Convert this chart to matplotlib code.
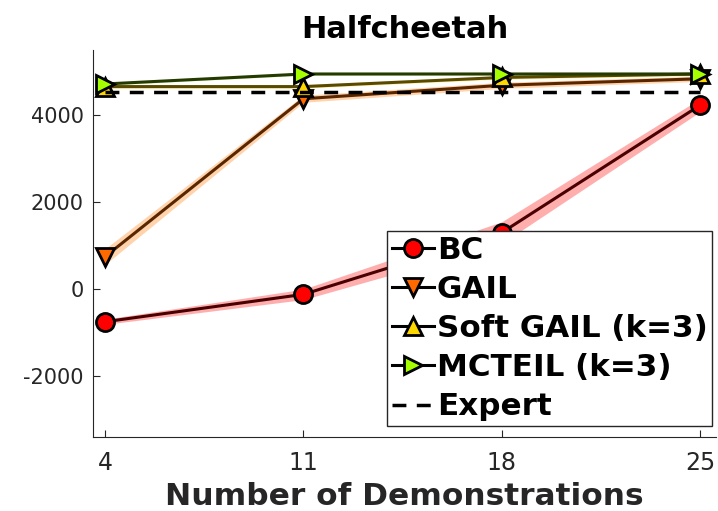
import numpy as np
import matplotlib
matplotlib.use('Agg')
import matplotlib.pyplot as plt

plt.rcParams['axes.unicode_minus'] = False

demos = [4, 11, 18, 25]

bc_mean = [-750, -120, 1300, 4230]
bc_std = [60, 120, 250, 150]
gail_mean = [750, 4380, 4690, 4840]
gail_std = [180, 80, 70, 60]
soft_gail_mean = [4660, 4660, 4870, 4950]
soft_gail_std = [40, 40, 40, 40]
mcteil_mean = [4720, 4950, 4950, 4950]
mcteil_std = [30, 30, 30, 30]
expert = 4540

series = [
    ('BC', bc_mean, bc_std, 'o', '#ff0000', '#4a0000', '#ff9a9a'),
    ('GAIL', gail_mean, gail_std, 'v', '#ff6a00', '#5a2600', '#ffc896'),
    ('Soft GAIL (k=3)', soft_gail_mean, soft_gail_std, '^', '#ffd700', '#5a4a00', '#fff0a0'),
    ('MCTEIL (k=3)', mcteil_mean, mcteil_std, '>', '#a6ff00', '#243a00', '#ddf5b0'),
]

fig = plt.figure(figsize=(7.18, 5.11), dpi=100)
ax = fig.add_axes([0.13, 0.145, 0.867, 0.757])

for name, m, s, mk, fc, lc, bandc in series:
    m = np.array(m, dtype=float)
    s = np.array(s, dtype=float)
    ax.fill_between(demos, m - s, m + s, color=bandc, alpha=0.8, lw=0)
    ax.plot(demos, m, color=lc, lw=2.2, marker=mk, markersize=13,
            markerfacecolor=fc, markeredgecolor='black', markeredgewidth=2.0,
            label=name)

ax.plot([demos[0], demos[-1]], [expert, expert], 'k--', lw=2.5,
        dashes=(4, 3), label='Expert')

ax.set_xlim(3.58, 25.56)
ax.set_ylim(-3400, 5500)
ax.set_xticks(demos)
ax.set_yticks([-2000, 0, 2000, 4000])
ax.tick_params(direction='in', length=5, colors='#262626')
ax.tick_params(axis='y', labelsize=15, pad=7)
ax.tick_params(axis='x', labelsize=17, pad=10)
for lbl in ax.get_xticklabels():
    lbl.set_family(['Liberation Sans Narrow', 'DejaVu Sans'])
ax.spines['top'].set_visible(False)
ax.spines['right'].set_visible(False)
for sp in ('left', 'bottom'):
    ax.spines[sp].set_color('#262626')

ax.set_title('Halfcheetah', fontsize=22, fontweight='bold', pad=9)
ax.set_xlabel('Number of Demonstrations', fontsize=22.5, fontweight='bold',
              labelpad=5, color='#262626')

leg = ax.legend(loc='lower right', prop={'weight': 'bold', 'size': 22.3},
                handlelength=1.35, handletextpad=0.1, borderpad=0.15,
                labelspacing=0.33, fancybox=False, framealpha=1,
                borderaxespad=0, edgecolor='#262626',
                bbox_to_anchor=(0.994, 0.028))
leg.get_frame().set_linewidth(1.0)
for line in leg.get_lines():
    line.set_color('black')

fig.savefig('out.png', dpi=100)
